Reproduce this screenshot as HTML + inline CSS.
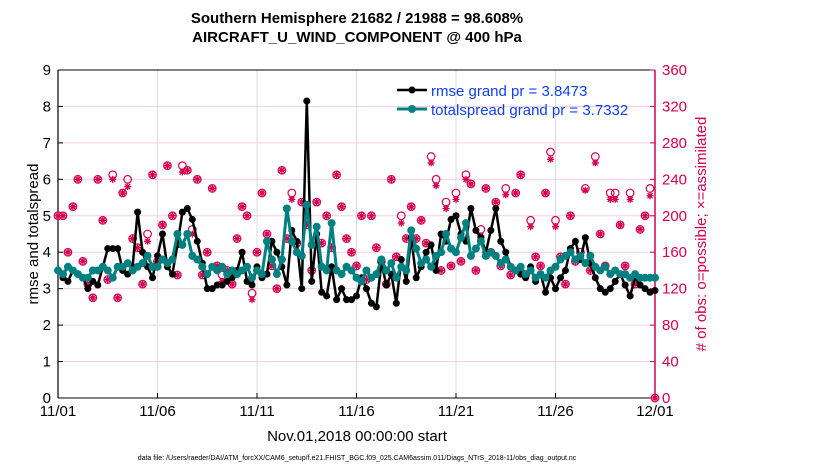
<!DOCTYPE html>
<html><head><meta charset="utf-8"><style>
body{margin:0;background:#fff;}
svg{display:block;font-family:"Liberation Sans",sans-serif;}
</style></head><body>
<svg id="chart" width="830" height="470">
<text x="357" y="23" text-anchor="middle" font-size="15" font-weight="bold">Southern Hemisphere 21682 / 21988 = 98.608%</text>
<text x="357" y="42" text-anchor="middle" font-size="15" font-weight="bold">AIRCRAFT_U_WIND_COMPONENT @ 400 hPa</text>
<g id="grid"></g>
<g id="axes"></g>
<g id="obs"></g>
<g id="lines"></g>
<g id="legend">
<line x1="397" y1="90" x2="427" y2="90" stroke="#000" stroke-width="2.5"/>
<circle cx="412" cy="90" r="3.5" fill="#000"/>
<text x="431" y="96" font-size="15" fill="#1240f0">rmse grand pr = 3.8473</text>
<line x1="397" y1="109" x2="427" y2="109" stroke="#008080" stroke-width="3"/>
<circle cx="412" cy="109" r="4" fill="#008080"/>
<text x="431" y="115" font-size="15" fill="#1240f0">totalspread grand pr = 3.7332</text>
</g>
<text x="357" y="441" text-anchor="middle" font-size="15">Nov.01,2018 00:00:00 start</text>
<text x="357" y="460" text-anchor="middle" font-size="7">data file: /Users/raeder/DAI/ATM_forcXX/CAM6_setup/f.e21.FHIST_BGC.f09_025.CAM6assim.011/Diags_NTrS_2018-11/obs_diag_output.nc</text>
<text transform="translate(38,234) rotate(-90)" text-anchor="middle" font-size="15">rmse and totalspread</text>
<text transform="translate(706,234) rotate(-90)" text-anchor="middle" font-size="15" fill="#d6004f"># of obs: o=possible; ×=assimilated</text>
</svg>
<script>
const xTickLabels=["11/01","11/06","11/11","11/16","11/21","11/26","12/01"];
const xTickDays=[0,5,10,15,20,25,30];
const leftTicks=[0,1,2,3,4,5,6,7,8,9];
const rightTicks=[0,40,80,120,160,200,240,280,320,360];
const rmse=[3.5,3.3,3.2,3.5, 3.4,3.3,3.0,3.2, 3.1,3.6,4.1,4.1, 4.1,3.5,3.4,3.6, 5.1,4.0,3.6,3.3, 3.9,4.5,3.6,3.4, 4.2,5.1,5.2,4.9, 4.3,3.7,3.0,3.0, 3.1,3.1,3.2,3.3, 3.5,4.0,3.2,3.1, 3.6,3.3,3.4,4.3, 4.0,3.6,3.1,4.6, 4.3,3.0,8.15,3.2, 4.5,2.9,2.8,3.6, 2.7,3.0,2.7,2.7, 2.8,3.3,3.0,2.6, 2.5,3.7,3.1,3.4, 2.6,3.8,3.2,4.4, 3.3,3.6,4.0,4.2, 3.5,4.5,4.3,4.9, 5.0,4.5,4.3,5.2, 4.6,4.4,4.0,4.6, 5.2,4.3,4.0,3.6, 3.5,3.4,3.3,3.6, 3.2,3.4,2.9,3.3, 3.0,3.3,3.5,4.1, 4.3,3.8,4.4,3.7, 3.3,3.0,2.9,3.0, 3.2,3.4,3.1,2.8, 3.3,3.1,3.0,2.9, 2.95];
const spread=[3.5,3.4,3.6,3.5, 3.4,3.3,3.3,3.5, 3.5,3.6,3.5,3.3, 3.6,3.6,3.7,3.5, 3.6,3.7,3.9,3.6, 3.6,3.8,3.7,3.8, 4.5,4.2,4.5,3.9, 3.8,3.6,3.4,3.6, 3.5,3.6,3.4,3.5, 3.4,3.5,3.6,3.3, 3.5,3.4,4.3,3.8, 3.4,3.8,5.2,4.3, 4.0,3.9,5.3,4.2, 4.7,3.6,3.5,4.8, 3.5,3.4,3.6,3.5, 3.3,3.2,3.5,3.3, 3.4,3.8,3.5,3.7, 3.3,3.6,3.5,4.6, 4.1,3.7,3.8,3.6, 3.9,4.0,4.5,4.1, 4.0,4.4,4.8,3.9, 4.1,4.3,3.9,4.0, 3.9,3.7,3.8,3.6, 3.5,3.6,3.4,3.5, 3.3,3.4,3.3,3.5, 3.6,3.8,3.9,4.0, 3.8,3.9,3.7,3.9, 3.6,3.5,3.6,3.4, 3.5,3.4,3.4,3.3, 3.4,3.3,3.3,3.3, 3.3];
const possible=[200,200,160,210, 240,150,125,110, 240,195,130,245, 110,225,240,175, 165,125,180,245, 150,190,255,200, 135,255,250,185, 240,135,160,230, 145,135,140,125, 175,210,200,115, 160,225,180,145, 120,250,175,225, 170,215,190,140, 215,170,200,165, 245,210,175,160, 145,200,130,200, 165,150,125,240, 155,200,175,210, 175,195,170,265, 240,140,215,145, 225,150,245,235, 140,185,230,160, 215,145,230,135, 225,245,135,195, 155,145,225,270, 195,155,125,200, 150,160,230,140, 265,180,145,225, 225,190,145,225, 125,185,200,230, 0];
const assimilated=[200,200,160,210, 240,150,125,110, 240,195,130,240, 110,225,232,175, 165,125,172,245, 150,190,255,200, 135,248,250,180, 240,135,160,230, 145,128,140,125, 175,210,200,108, 160,225,180,145, 120,250,175,218, 170,215,190,140, 215,170,200,165, 245,210,175,160, 145,200,130,200, 165,150,125,240, 155,192,175,210, 175,195,170,258, 233,140,208,145, 218,150,240,235, 140,178,230,160, 215,145,223,135, 225,245,135,188, 155,145,225,262, 188,155,125,200, 150,152,228,140, 258,180,145,218, 218,190,145,218, 125,185,200,222, 0];

const NS="http://www.w3.org/2000/svg";
const X0=58,X1=655,Y0=398,Y1=70;
const xs=d=>X0+(X1-X0)*d/30;
const ys=v=>Y0-(Y0-Y1)*v/9;
const yr=v=>Y0-(Y0-Y1)*v/360;
const idxDay=i=>i*0.25;
function mk(tag,attrs,parent){const e=document.createElementNS(NS,tag);for(const k in attrs)e.setAttribute(k,attrs[k]);parent.appendChild(e);return e;}
const grid=document.getElementById('grid'),axes=document.getElementById('axes'),obs=document.getElementById('obs'),lines=document.getElementById('lines');

rightTicks.forEach(t=>{const l=mk('line',{x1:X0,x2:X1,y1:yr(t),y2:yr(t),stroke:'#f4cfdc','stroke-width':1},grid);

});
xTickDays.forEach((d,i)=>{const l=mk('line',{x1:xs(d),x2:xs(d),y1:Y1,y2:Y0,stroke:'#dcdcdc','stroke-width':1},grid);


const t=mk('text',{x:xs(d),y:416,'text-anchor':'middle','font-size':15},axes);t.textContent=xTickLabels[i];


mk('line',{x1:xs(d),x2:xs(d),y1:Y0,y2:Y0-5,stroke:'#000'},axes);});
mk('line',{x1:X0,x2:X1,y1:Y1,y2:Y1,stroke:'#000','stroke-width':1},axes);
mk('line',{x1:X0,x2:X1,y1:Y0,y2:Y0,stroke:'#000','stroke-width':1},axes);
const la=mk('line',{x1:X0,x2:X0,y1:Y1,y2:Y0,stroke:'#000','stroke-width':1.2},axes);


const ra=mk('line',{x1:X1,x2:X1,y1:Y1,y2:Y0,stroke:'#d6004f','stroke-width':1.5},axes);


leftTicks.forEach(t=>{mk('line',{x1:X0,x2:X0+5,y1:ys(t),y2:ys(t),stroke:'#000'},axes);
const e=mk('text',{x:X0-7,y:ys(t)+5,'text-anchor':'end','font-size':15},axes);e.textContent=t;

});
rightTicks.forEach(t=>{mk('line',{x1:X1,x2:X1-5,y1:yr(t),y2:yr(t),stroke:'#d6004f'},axes);
const e=mk('text',{x:X1+7,y:yr(t)+5,'font-size':15,fill:'#d6004f'},axes);e.textContent=t;

});

possible.forEach((v,i)=>{const x=xs(idxDay(i));
const c=mk('circle',{cx:x,cy:yr(v),r:3.8,fill:'none',stroke:'#d6004f','stroke-width':1.2},obs);

});
assimilated.forEach((v,i)=>{const x=xs(idxDay(i)),y=yr(v);
const p=mk('path',{d:`M${x-3.5},${y}H${x+3.5}M${x},${y-3.5}V${y+3.5}M${x-2.5},${y-2.5}L${x+2.5},${y+2.5}M${x-2.5},${y+2.5}L${x+2.5},${y-2.5}`,stroke:'#d6004f','stroke-width':1.3},obs);

});

function series(arr,color,w,r,name){
const pts=arr.map((v,i)=>xs(idxDay(i)).toFixed(1)+','+ys(v).toFixed(1)).join(' ');
const pl=mk('polyline',{points:pts,fill:'none',stroke:color,'stroke-width':w,'stroke-linejoin':'round'},lines);


arr.forEach((v,i)=>{const c=mk('circle',{cx:xs(idxDay(i)),cy:ys(v),r:r,fill:color},lines);

});}
series(rmse,'#000',2.5,3.5,'rmse');
series(spread,'#008080',3,4,'totalspread');
</script>
</body></html>
